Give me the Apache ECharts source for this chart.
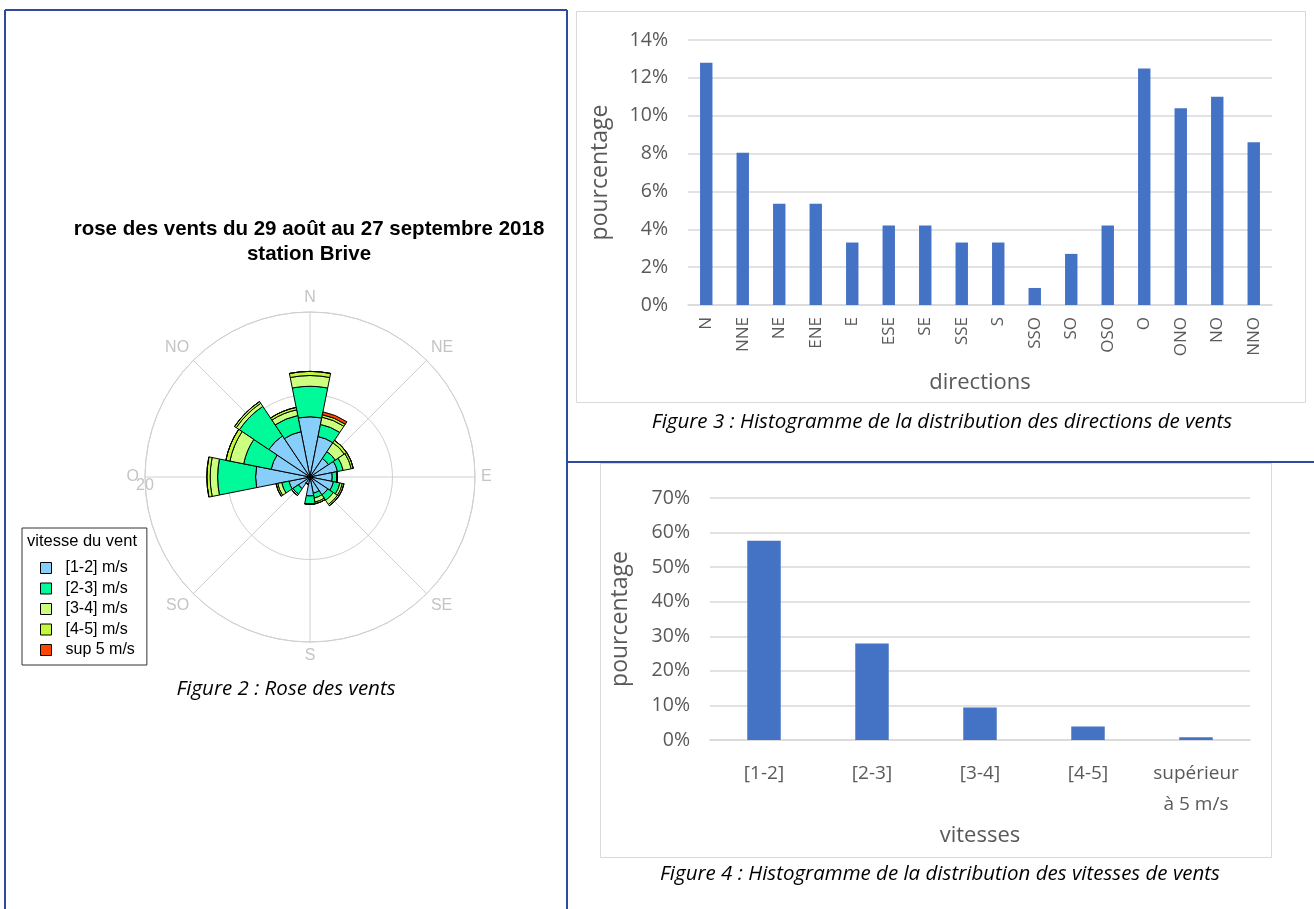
<!DOCTYPE html>
<html><head><meta charset="utf-8">
<script src="https://cdn.jsdelivr.net/npm/echarts@6/dist/echarts.min.js"></script>
<style>html,body{margin:0;padding:0;background:#fff}#c{width:1314px;height:909px}</style>
</head><body><div id="c"></div>
<script>
// ---------- data ----------
const directions = ['N','NNE','NE','ENE','E','ESE','SE','SSE','S','SSO','SO','OSO','O','ONO','NO','NNO'];
const dirPercent = [12.8,8.05,5.35,5.35,3.3,4.2,4.2,3.3,3.3,0.9,2.7,4.2,12.5,10.4,11.0,8.6];
const speedClasses = ['[1-2]','[2-3]','[3-4]','[4-5]','supérieur\nà 5 m/s'];
const speedPercent = [57.6,27.9,9.4,3.9,0.8];
const percentTicks = v => v + '%';
const compassLabels = ['O','NO','N','NE','E','SE','S','SO'];
const roseLegend = ['[1-2] m/s','[2-3] m/s','[3-4] m/s','[4-5] m/s','sup 5 m/s'];
const roseColors = ['#87CEFA','#00FA9A','#CCFF80','#C2F83A','#FF4500'];
// percentage per direction for each speed class (N, NNE, ... NNO)
const rose_1_2 = [7.3,5.0,2.7,3.4,2.7,2.9,2.6,2.0,2.3,0.9,1.7,2.6,6.6,4.8,6.0,5.6];
const rose_2_3 = [3.7,1.5,1.0,0.7,0.6,0.8,0.8,0.6,1.0,0,0.8,0.9,4.6,3.4,4.3,2.0];
const rose_3_4 = [1.3,0.9,1.3,1.0,0,0.3,0.6,0.5,0,0,0.2,0.5,0.9,1.7,0.45,0.7];
const rose_4_5 = [0.5,0.3,0.35,0.25,0,0.2,0.2,0.2,0,0,0,0.2,0.4,0.5,0.25,0.3];
const rose_sup5 = [0,0.35,0,0,0,0,0,0,0,0,0,0,0,0,0,0];
const roseSeriesData = [rose_1_2, rose_2_3, rose_3_4, rose_4_5, rose_sup5];

// ---------- chart ----------
const chart = echarts.init(document.getElementById('c'), null, {renderer:'canvas'});
const GRAY = '#595959';
const FONT = 'Open Sans';
const BLUE = '#4472C4';
const LINE = '#2E4A9E';

const roseSeries = roseSeriesData.map((d, i) => ({
  name: roseLegend[i], type: 'bar', coordinateSystem: 'polar', polarIndex: 0,
  stack: 'rose', data: d, barCategoryGap: '0%',
  itemStyle: {color: roseColors[i], borderColor: '#000', borderWidth: 1},
  emphasis: {disabled: true}, z: 5
}));

const option = {
  animation: false,
  backgroundColor: '#fff',
  polar: [
    {center: [310, 477], radius: 165},
    {center: [310, 477], radius: 165}
  ],
  angleAxis: [
    {polarIndex: 0, type: 'category', data: directions, startAngle: 101.25, clockwise: true,
     axisLine: {show: false}, axisTick: {show: false}, axisLabel: {show: false}, splitLine: {show: false}},
    {polarIndex: 1, type: 'value', min: 0, max: 360, interval: 45, startAngle: 180, clockwise: true,
     axisLine: {show: true, lineStyle: {color: '#d0d0d0', width: 1}},
     axisTick: {show: false},
     splitLine: {show: true, lineStyle: {color: '#d0d0d0', width: 1}},
     axisLabel: {show: true, margin: 6, color: '#c4c4c4', fontSize: 16, fontFamily: 'Liberation Sans',
       formatter: v => compassLabels[Math.round(v / 45)] || ''}}
  ],
  radiusAxis: [
    {polarIndex: 0, type: 'value', min: 0, max: 20, axisLine: {show: false}, axisTick: {show: false},
     axisLabel: {show: false}, splitLine: {show: false}},
    {polarIndex: 1, type: 'value', min: 0, max: 20, interval: 10, axisLine: {show: false}, axisTick: {show: false},
     splitLine: {show: true, lineStyle: {color: '#d0d0d0', width: 1}},
     axisLabel: {show: true, margin: 1, color: '#c4c4c4', fontSize: 16, fontFamily: 'Liberation Sans',
       formatter: v => (v === 20 ? '20' : '')}}
  ],
  legend: {
    data: roseLegend, orient: 'vertical', left: 22, top: 528,
    padding: [32, 12, 7, 18], itemWidth: 11, itemHeight: 11, itemGap: 4.5,
    borderColor: '#333', borderWidth: 1, icon: 'rect',
    itemStyle: {borderColor: '#000', borderWidth: 1},
    textStyle: {fontFamily: 'Liberation Sans', fontSize: 16, color: '#000', padding: [0, 0, 0, 9]},
    selectedMode: false
  },
  grid: [
    {left: 688, right: 42, top: 40, bottom: 604, containLabel: false},
    {left: 710, right: 64, top: 498, bottom: 169, containLabel: false}
  ],
  xAxis: [
    {gridIndex: 0, type: 'category', data: directions,
     axisLine: {lineStyle: {color: '#d9d9d9', width: 1.5}}, axisTick: {show: false},
     axisLabel: {rotate: 90, margin: 12, color: GRAY, fontSize: 17, fontFamily: FONT, interval: 0},
     name: 'directions', nameLocation: 'middle', nameGap: 67,
     nameTextStyle: {color: GRAY, fontSize: 22, fontFamily: FONT}},
    {gridIndex: 1, type: 'category', data: speedClasses,
     axisLine: {lineStyle: {color: '#d9d9d9', width: 1.5}}, axisTick: {show: false},
     axisLabel: {margin: 18, color: GRAY, fontSize: 19, fontFamily: FONT, lineHeight: 31, interval: 0},
     name: 'vitesses', nameLocation: 'middle', nameGap: 85,
     nameTextStyle: {color: GRAY, fontSize: 22, fontFamily: FONT}}
  ],
  yAxis: [
    {gridIndex: 0, type: 'value', min: 0, max: 14, interval: 2,
     axisLine: {show: false}, axisTick: {show: false},
     splitLine: {lineStyle: {color: '#d9d9d9', width: 1.5}},
     axisLabel: {formatter: percentTicks, color: GRAY, fontSize: 19.5, fontFamily: FONT, margin: 20},
     name: 'pourcentage', nameLocation: 'middle', nameGap: 76,
     nameTextStyle: {color: GRAY, fontSize: 23, fontFamily: FONT}},
    {gridIndex: 1, type: 'value', min: 0, max: 70, interval: 10,
     axisLine: {show: false}, axisTick: {show: false},
     splitLine: {lineStyle: {color: '#d9d9d9', width: 1.5}},
     axisLabel: {formatter: percentTicks, color: GRAY, fontSize: 19.5, fontFamily: FONT, margin: 20},
     name: 'pourcentage', nameLocation: 'middle', nameGap: 78,
     nameTextStyle: {color: GRAY, fontSize: 23, fontFamily: FONT}}
  ],
  series: [
    ...roseSeries,
    {name: 'directionsBar', type: 'bar', xAxisIndex: 0, yAxisIndex: 0, data: dirPercent,
     barWidth: '34%', itemStyle: {color: BLUE}, emphasis: {disabled: true}},
    {name: 'vitessesBar', type: 'bar', xAxisIndex: 1, yAxisIndex: 1, data: speedPercent,
     barWidth: '31%', itemStyle: {color: BLUE}, emphasis: {disabled: true}}
  ],
  graphic: [
    // table borders
    {type: 'line', shape: {x1: 5, y1: 10, x2: 567, y2: 10}, style: {stroke: LINE, lineWidth: 2}},
    {type: 'line', shape: {x1: 5, y1: 10, x2: 5, y2: 909}, style: {stroke: LINE, lineWidth: 2}},
    {type: 'line', shape: {x1: 567, y1: 10, x2: 567, y2: 909}, style: {stroke: LINE, lineWidth: 2}},
    {type: 'line', shape: {x1: 567, y1: 462, x2: 1314, y2: 462}, style: {stroke: LINE, lineWidth: 2}},
    // chart frames
    {type: 'rect', shape: {x: 576.5, y: 11.5, width: 729, height: 391}, style: {fill: null, stroke: '#d9d9d9', lineWidth: 1}, z: -1},
    {type: 'rect', shape: {x: 600.5, y: 463.5, width: 671, height: 394}, style: {fill: null, stroke: '#d9d9d9', lineWidth: 1}, z: -1},
    // rose title
    {type: 'text', style: {text: 'rose des vents du 29 août au 27 septembre 2018', x: 309, y: 229, align: 'center', verticalAlign: 'middle',
      font: 'bold 20.5px "Liberation Sans"', fill: '#000'}},
    {type: 'text', style: {text: 'station Brive', x: 309, y: 254, align: 'center', verticalAlign: 'middle',
      font: 'bold 20.5px "Liberation Sans"', fill: '#000'}},
    // legend title
    {type: 'text', z: 100, style: {text: 'vitesse du vent', x: 27, y: 541, align: 'left', verticalAlign: 'middle',
      font: '16.5px "Liberation Sans"', fill: '#000'}},
    // captions
    {type: 'text', style: {text: 'Figure 2 : Rose des vents', x: 286, y: 689, align: 'center', verticalAlign: 'middle',
      font: 'italic 20.5px "Open Sans"', fill: '#000'}},
    {type: 'text', style: {text: 'Figure 3 : Histogramme de la distribution des directions de vents', x: 942, y: 422, align: 'center', verticalAlign: 'middle',
      font: 'italic 20.5px "Open Sans"', fill: '#000'}},
    {type: 'text', style: {text: 'Figure 4 : Histogramme de la distribution des vitesses de vents', x: 940, y: 874, align: 'center', verticalAlign: 'middle',
      font: 'italic 20.5px "Open Sans"', fill: '#000'}}
  ]
};
chart.setOption(option);
</script>
</body></html>
